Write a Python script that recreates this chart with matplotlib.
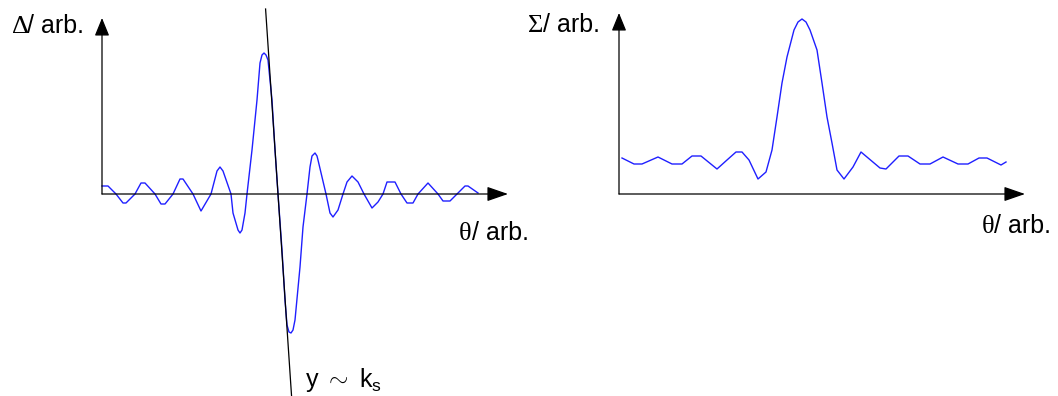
import matplotlib
matplotlib.use('Agg')
import matplotlib.pyplot as plt

plt.rcParams['font.family'] = ['Liberation Sans', 'DejaVu Sans']
plt.rcParams['mathtext.fontset'] = 'custom'
plt.rcParams['mathtext.rm'] = 'Liberation Sans'
plt.rcParams['mathtext.it'] = 'Liberation Sans'

# difference pattern (left), angle and amplitude in arbitrary units
delta_theta = [0.0, 0.6, 1.4, 2.1, 2.4, 3.3, 3.9, 4.3, 5.3, 5.9, 6.3, 7.1, 7.8, 8.1,
               9.1, 9.9, 10.9, 11.5, 11.8, 12.1, 12.9, 13.1, 13.6, 13.8, 14.0, 14.3,
               14.5, 15.0, 15.5, 15.8, 16.0, 16.2, 16.4, 16.6, 17.0, 17.3, 17.6, 18.0,
               18.3, 18.5, 18.7, 18.9, 19.1, 19.3, 19.8, 20.1, 20.5, 20.8, 21.0, 21.3,
               21.5, 21.6, 22.0, 22.4, 22.8, 23.1, 23.6, 24.1, 24.5, 25.0, 25.6, 26.2,
               27.0, 27.6, 28.1, 28.5, 29.3, 29.9, 30.5, 31.1, 31.6, 32.6, 33.6, 34.1,
               34.8, 35.5, 36.3, 36.6, 37.6]
delta_vals = [0.8, 0.8, 0.0, -0.9, -0.9, 0.0, 1.1, 1.1, 0.0, -1.0, -1.0, 0.0, 1.5, 1.5,
              0.0, -1.7, 0.0, 2.3, 2.7, 2.3, 0.0, -1.9, -3.6, -3.9, -3.6, -1.9,
              0.0, 4.4, 9.4, 13.1, 13.9, 14.1, 13.9, 13.4, 9.4, 4.4, 0.0, -5.6,
              -10.6, -13.1, -13.8, -13.9, -13.6, -12.6, -7.3, -3.3, 0.0, 2.7, 3.8, 4.1,
              3.8, 3.4, 1.7, 0.0, -1.9, -2.3, -1.6, 0.0, 1.2, 1.8, 1.2, 0.0,
              -1.4, -0.8, 0.0, 1.2, 1.2, 0.0, -0.9, -0.9, 0.0, 1.1, 0.0, -0.7,
              -0.7, 0.0, 0.8, 0.8, 0.1]

# sum pattern (right)
sum_theta = [0.3, 1.5, 2.3, 3.9, 5.3, 6.3, 7.3, 8.2, 9.8, 10.8, 11.7, 12.3, 13.0,
             13.9, 14.7, 15.3, 15.8, 16.3, 16.8, 17.5, 17.9, 18.3, 18.7, 19.1, 19.8,
             20.3, 20.8, 21.3, 21.8, 22.5, 23.4, 24.2, 26.1, 26.7, 28.0, 28.9, 30.1,
             31.1, 32.4, 33.9, 34.9, 36.0, 36.8, 38.2, 38.7]
sum_vals = [3.6, 3.0, 3.0, 3.7, 3.0, 3.0, 3.8, 3.8, 2.5, 3.4, 4.2, 4.2, 3.4,
            1.5, 2.2, 4.4, 7.7, 11.1, 13.7, 16.4, 17.2, 17.5, 17.2, 16.4, 14.4,
            11.1, 7.7, 5.1, 2.4, 1.5, 2.7, 4.2, 2.6, 2.5, 3.8, 3.8, 3.0,
            3.0, 3.7, 3.0, 3.0, 3.6, 3.6, 2.9, 3.2]

# tangent through the null of the difference pattern
null_theta = 17.6
k_s = -14.9
tangent_span = (18.5, -20.2)

x_end = 40.6
ylim = (-20.2, 19.4)
line_blue = '#1f1fff'


def draw_axes_arrows(ax, y_top):
    style = dict(color='black', lw=0.9, shrinkA=0, shrinkB=0)
    ax.annotate('', xy=(x_end, 0), xytext=(0, 0), annotation_clip=False,
                arrowprops=dict(arrowstyle='-|>,head_length=1.3,head_width=0.45', **style))
    ax.annotate('', xy=(0, y_top), xytext=(0, 0), annotation_clip=False,
                arrowprops=dict(arrowstyle='-|>,head_length=1.1,head_width=0.45', **style))


def axis_label(ax, x, y, greek, gap):
    # greek symbol in a serif face, unit text right after it
    ax.text(x, y, greek, family='Liberation Serif', fontsize=19, ha='left', va='baseline')
    ax.annotate('/ arb.', xy=(x, y), xytext=(gap, 0), textcoords='offset points',
                fontsize=18, ha='left', va='baseline', annotation_clip=False)


W, H = 1058, 396
fig = plt.figure(figsize=(W / 100, H / 100), dpi=100)
ax1 = fig.add_axes([102 / W, 0, 406 / W, 1])
ax2 = fig.add_axes([619 / W, 0, 406 / W, 1])
for ax in (ax1, ax2):
    ax.set_xlim(0, x_end)
    ax.set_ylim(*ylim)
    ax.axis('off')

# left: difference pattern
ax1.plot(delta_theta, delta_vals, color=line_blue, lw=1.0, clip_on=False)
draw_axes_arrows(ax1, 17.6)
y_top, y_bot = tangent_span
ax1.plot([null_theta + y_top / k_s, null_theta + y_bot / k_s], [y_top, y_bot],
         color='black', lw=0.9, clip_on=False)
axis_label(ax1, -9.0, 16.1, '\u0394', 11)
axis_label(ax1, 35.7, -4.6, '\u03b8', 9)
ax1.text(20.3, -19.3, r'y $\sim$ k$_{\rm s}$', fontsize=18, ha='left', va='baseline')

# right: sum pattern
ax2.plot(sum_theta, sum_vals, color=line_blue, lw=1.0, clip_on=False)
draw_axes_arrows(ax2, 18.1)
axis_label(ax2, -9.1, 16.2, '\u03a3', 10.5)
axis_label(ax2, 36.3, -3.9, '\u03b8', 9)

fig.savefig('out.png', dpi=100)
